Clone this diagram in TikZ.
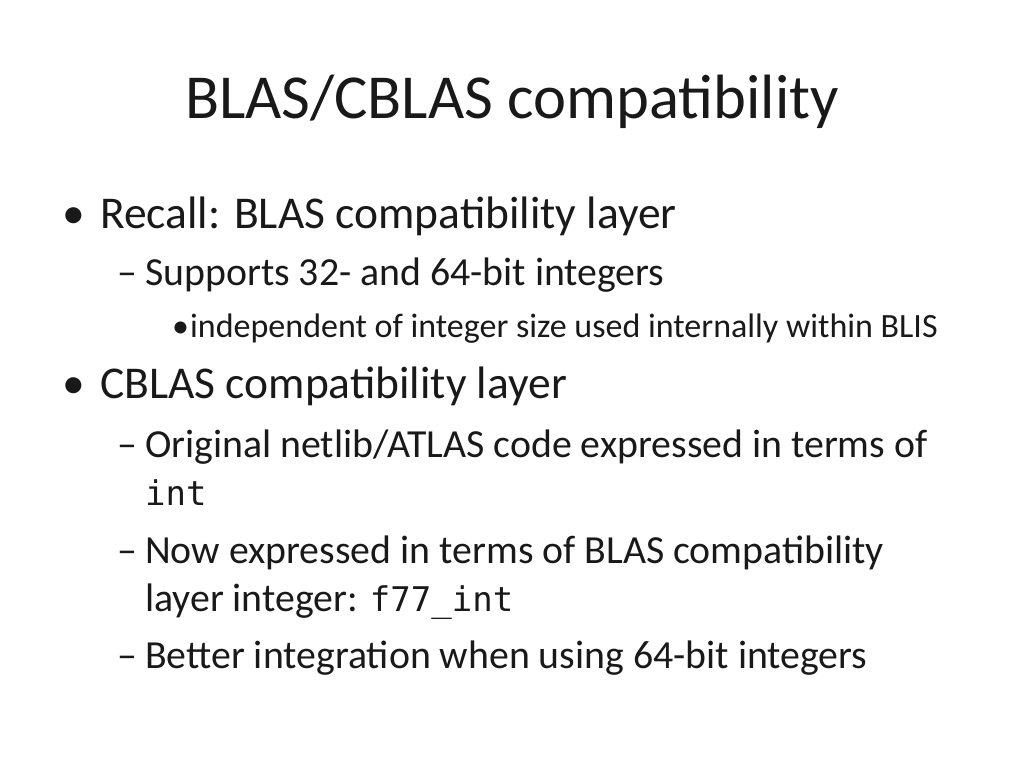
\documentclass[tikz,border=0pt]{standalone}
\usepackage{fontspec}
\setmainfont{Carlito}
\newfontfamily\codefont{DejaVu Sans Mono}
\begin{document}
\begin{tikzpicture}[x=1pt,y=-1pt,
  every node/.style={anchor=base west,inner sep=0pt,text=black!90},
  lone/.style={font=\fontsize{45.5}{50}\selectfont},
  ltwo/.style={font=\fontsize{39.8}{44}\selectfont},
  lthree/.style={font=\fontsize{34}{38}\selectfont}]
\useasboundingbox (0,0) rectangle (1024,768);
\node[anchor=base,font=\fontsize{62.6}{70}\selectfont] (title) at (512,118) {BLAS/CBLAS compatibility};
\node[lone] (b1) at (62,228) {•};
\node[lone] (t1) at (100,228) {Recall: BLAS compatibility layer};
\node[ltwo] (d1) at (117,285) {–};
\node[ltwo] (t2) at (145,285) {Supports 32- and 64-bit integers};
\node[lthree] (b2) at (172,337) {•};
\node[lthree] (t3) at (190,337) {independent of integer size used internally within BLIS};
\node[lone] (b3) at (62,398) {•};
\node[lone] (t4) at (100,398) {CBLAS compatibility layer};
\node[ltwo] (d2) at (117,457) {–};
\node[ltwo] (t5) at (145,457) {Original netlib/ATLAS code expressed in terms of};
\node[ltwo] (t6) at (145,505) {\codefont\fontsize{34}{38}\selectfont int};
\node[ltwo] (d3) at (117,563) {–};
\node[ltwo] (t7) at (145,563) {Now expressed in terms of BLAS compatibility};
\node[ltwo] (t8) at (145,611) {layer integer: {\codefont\fontsize{34}{38}\selectfont f77\_int}};
\node[ltwo] (d4) at (117,668) {–};
\node[ltwo] (t9) at (145,668) {Better integration when using 64-bit integers};
\end{tikzpicture}
\end{document}
